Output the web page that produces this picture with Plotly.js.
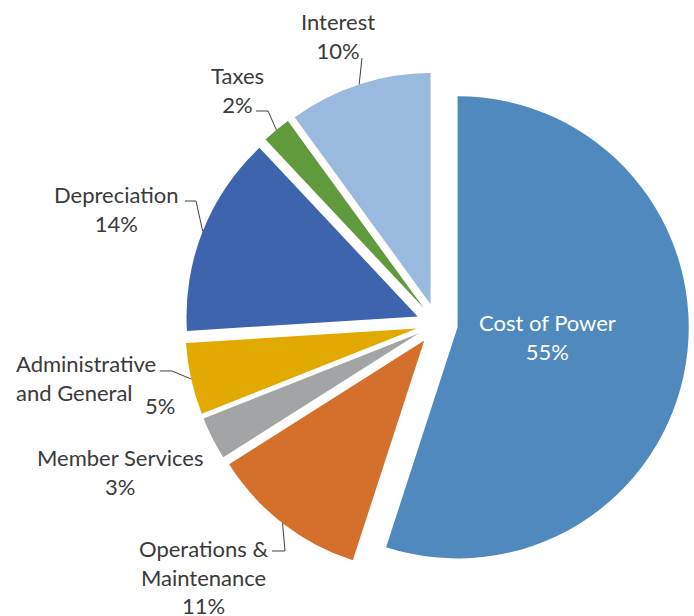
<!DOCTYPE html>
<html>
<head>
<meta charset="utf-8">
<script src="https://cdn.plot.ly/plotly-3.0.1.min.js"></script>
<style>html,body{margin:0;padding:0;background:#fff;}#chart{width:694px;height:616px;}</style>
</head>
<body>
<div id="chart"></div>
<script>
// ---- data ----
const categories = ["Cost of Power", "Operations & Maintenance", "Member Services", "Administrative and General", "Depreciation", "Taxes", "Interest"];
const values = [55, 11, 3, 5, 14, 2, 10];
const colors = ["#4F89BD", "#D5702C", "#A3A4A6", "#E2AA00", "#3E64AD", "#609A3D", "#99B9DF"];
const labelLines = [["Cost of Power"], ["Operations &", "Maintenance"], ["Member Services"], ["Administrative", "and General"], ["Depreciation"], ["Taxes"], ["Interest"]];

// ---- layout constants ----
const W = 694, H = 616;
const pull = 0.09;
const dom = {x: [0.2666, 0.9928], y: [0.0649, 0.883]};
const FONT = "Lato, 'Open Sans', sans-serif";
const TXT = "#3a3a3a";
const FS = 22;

// pie geometry (mirrors Plotly's pie scaling with margins 0)
const boxW = W * (dom.x[1] - dom.x[0]), boxH = H * (dom.y[1] - dom.y[0]);
const R = Math.min(boxW, boxH) / (2 + 2 * pull);
const CX = W * (dom.x[0] + dom.x[1]) / 2;
const CY = H * (1 - dom.y[0]) - boxH / 2;
const total = values.reduce((a, b) => a + b, 0);
let cum = 0;
const mids = values.map(v => { const m = (cum + v / 2) / total * 2 * Math.PI; cum += v; return m; });
function slicePoint(i, frac) { // frac of radius from the pulled apex, along the slice bisector
  const a = mids[i], dx = Math.sin(a), dy = -Math.cos(a);
  const ax = CX + pull * R * dx, ay = CY + pull * R * dy;
  return [ax + frac * R * dx, ay + frac * R * dy];
}
const px = x => x / W, py = y => 1 - y / H;
const pct = i => Math.round(values[i] / total * 100) + "%";

// label placement (pixel positions of the text blocks; anchors come from the data)
const labelPos = [
  {i: 0, x: 547, y: 337, color: "#ffffff", text: labelLines[0].join("<br>") + "<br>" + pct(0)},
  {i: 1, x: 203, y: 577, text: labelLines[1].join("<br>") + "<br>" + pct(1), line: [[272, 551], [285, 551]]},
  {i: 2, x: 120, y: 472, text: labelLines[2].join("<br>") + "<br>" + pct(2)},
  {i: 3, x: 14, y: 378, xanchor: "left", align: "left", text: labelLines[3].join("<br>"), line: [[160, 371], [172, 371]]},
  {i: 3, x: 160, y: 405, text: pct(3)},
  {i: 4, x: 117, y: 209, text: labelLines[4].join("<br>") + "<br>" + pct(4), line: [[185, 201], [196, 201]]},
  {i: 5, x: 237, y: 90, text: labelLines[5].join("<br>") + "<br>" + pct(5), line: [[256, 111], [268, 111]]},
  {i: 6, x: 338, y: 36, text: labelLines[6].join("<br>") + "<br>" + pct(6), line: [[362, 58]]}
];

const annotations = labelPos.map(l => ({
  x: px(l.x), y: py(l.y), xref: "paper", yref: "paper",
  xanchor: l.xanchor || "center", yanchor: "middle", align: l.align || "center",
  text: l.text, showarrow: false,
  font: {family: FONT, size: FS, color: l.color || TXT}
}));

const shapes = labelPos.filter(l => l.line).map(l => {
  const a = slicePoint(l.i, 1.0);
  const pts = l.line.concat([a]);
  const d = pts.map((p, k) => (k ? "L" : "M") + px(p[0]).toFixed(5) + "," + py(p[1]).toFixed(5)).join(" ");
  return {type: "path", xref: "paper", yref: "paper", path: d, line: {color: "#404040", width: 1}};
});

const trace = {
  type: "pie",
  labels: categories,
  values: values,
  sort: false,
  direction: "clockwise",
  rotation: 0,
  pull: values.map(() => pull),
  marker: {colors: colors, line: {color: "#ffffff", width: 0}},
  textinfo: "none",
  hoverinfo: "label+percent",
  domain: dom,
  showlegend: false
};

Plotly.newPlot("chart", [trace], {
  width: W, height: H,
  margin: {l: 0, r: 0, t: 0, b: 0, pad: 0},
  paper_bgcolor: "#ffffff",
  showlegend: false,
  annotations: annotations,
  shapes: shapes
}, {displayModeBar: false, staticPlot: true});
</script>
</body>
</html>
